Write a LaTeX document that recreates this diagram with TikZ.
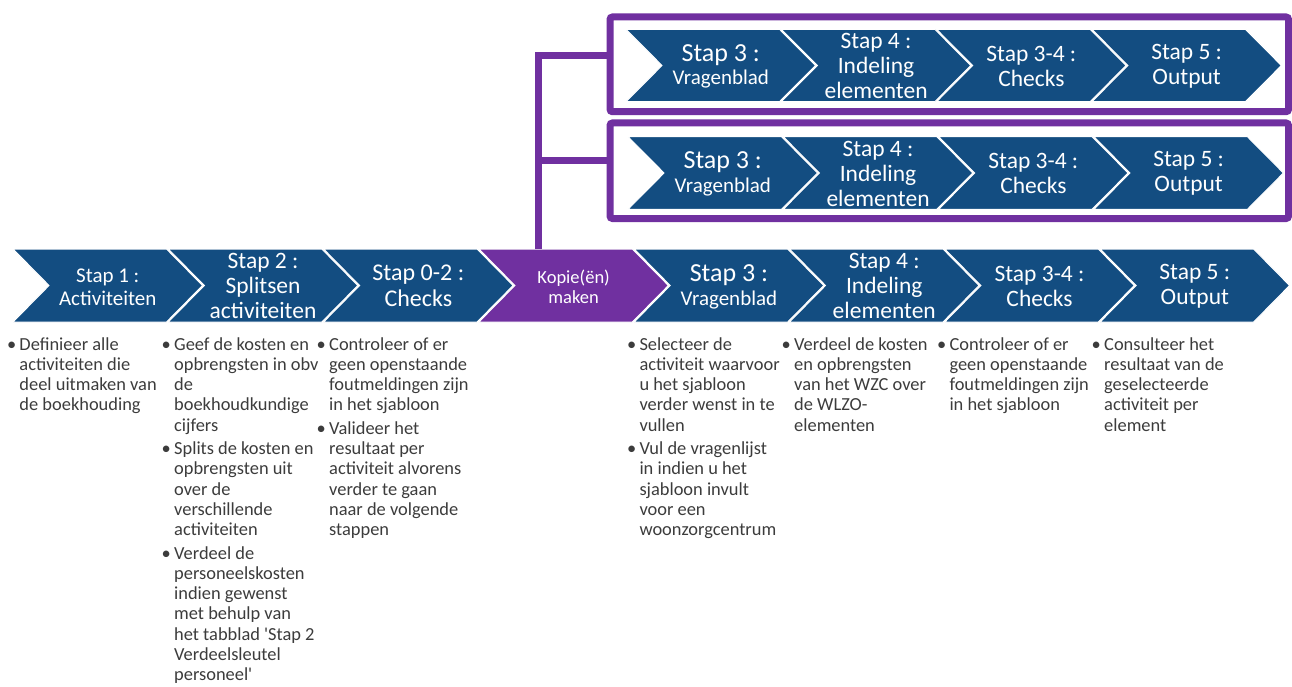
\documentclass[tikz,border=0pt]{standalone}
\usepackage{fontspec}
\setmainfont{Carlito}
\definecolor{cblue}{RGB}{19,77,129}
\definecolor{cpurp}{RGB}{112,48,160}
\definecolor{ctext}{RGB}{60,60,60}
\tikzset{
  chevshape/.style={fill=cblue, draw=white, line width=1pt, line join=miter},
  chevtxt/.style={text=white, align=center, inner sep=0pt},
  copybox/.style={draw=cpurp, line width=7pt, rounded corners=2.5pt, inner sep=0pt, outer sep=0pt},
  conn/.style={draw=cpurp, line width=7pt, line join=miter},
  desc/.style={anchor=base west, inner sep=0pt, text=ctext, font=\fontsize{18.4}{20.3}\selectfont},
}
\newcommand\chevpath[4][cblue]{\path[chevshape, fill=#1] (#2,#3) -- ++(153.5,0) -- ++(36,#4/2) -- ++(-36,#4/2) -- ++(-153.5,0) -- ++(36,-#4/2) -- cycle;}
\newcommand\bul{\makebox[12.5pt][l]{\textbullet}}
\newcommand\fA{\fontsize{21}{23}\selectfont}
\newcommand\fB{\fontsize{23.5}{25}\selectfont}
\newcommand\fC{\fontsize{24}{26}\selectfont}
\newcommand\fP{\fontsize{18.5}{20}\selectfont}
\newcommand\fS{\fontsize{21}{23.3}\selectfont}
\newcommand\fBig{\fontsize{26}{26}\selectfont}
\begin{document}
\begin{tikzpicture}[x=1pt,y=-1pt]
\useasboundingbox[fill=white] (0,0) rectangle (1292,687);

% ---------- bottom row of chevrons ----------
\chevpath{13}{249}{73}
\chevpath{168.3}{249}{73}
\chevpath{323.6}{249}{73}
\chevpath[cpurp]{478.9}{249}{73}
\chevpath{634.2}{249}{73}
\chevpath{789.5}{249}{73}
\chevpath{944.8}{249}{73}
\chevpath{1100.1}{249}{73}

\node[chevtxt, font=\fA] (b1) at (107.75,287) {Stap 1 :\\Activiteiten};
\node[chevtxt, font=\fB] (b2) at (263.05,286) {Stap 2 :\\Splitsen\\activiteiten};
\node[chevtxt, font=\fC] (b3) at (418.35,286) {Stap 0-2 :\\Checks};
\node[chevtxt, font=\fP] (b4) at (573.65,287) {Kopie(ën)\\maken};
\node[chevtxt, font=\fS] (b5) at (728.95,287) {{\fBig Stap 3 :}\\Vragenblad};
\node[chevtxt, font=\fB] (b6) at (884.25,286) {Stap 4 :\\Indeling\\elementen};
\node[chevtxt, font=\fB] (b7) at (1039.55,286) {Stap 3-4 :\\Checks};
\node[chevtxt, font=\fB] (b8) at (1194.85,286) {Stap 5 :\\Output};

% ---------- copy boxes ----------
\node[copybox, minimum width=678.5pt, minimum height=94.7pt] (box1) at (949.25,64.35) {};
\node[copybox, minimum width=678.5pt, minimum height=95.5pt] (box2) at (949.25,170.75) {};

\chevpath{626}{29.3}{72.4}
\chevpath{781.3}{29.3}{72.4}
\chevpath{936.6}{29.3}{72.4}
\chevpath{1091.9}{29.3}{72.4}
\node[chevtxt, font=\fS] (u1) at (720.75,66.5) {{\fBig Stap 3 :}\\Vragenblad};
\node[chevtxt, font=\fB] (u2) at (876.05,66) {Stap 4 :\\Indeling\\elementen};
\node[chevtxt, font=\fB] (u3) at (1031.35,66) {Stap 3-4 :\\Checks};
\node[chevtxt, font=\fB] (u4) at (1186.65,66) {Stap 5 :\\Output};

\chevpath{628}{136.7}{72.6}
\chevpath{783.3}{136.7}{72.6}
\chevpath{938.6}{136.7}{72.6}
\chevpath{1093.9}{136.7}{72.6}
\node[chevtxt, font=\fS] (v1) at (722.75,174) {{\fBig Stap 3 :}\\Vragenblad};
\node[chevtxt, font=\fB] (v2) at (878.05,173.5) {Stap 4 :\\Indeling\\elementen};
\node[chevtxt, font=\fB] (v3) at (1033.35,173.5) {Stap 3-4 :\\Checks};
\node[chevtxt, font=\fB] (v4) at (1188.65,173.5) {Stap 5 :\\Output};

% ---------- connector ----------
\coordinate (kt) at (538,249);
\coordinate (j1) at (538,55.5);
\coordinate (j2) at (538,161);
\draw[conn] (kt) -- (j1) -- (j1 -| box1.west);
\draw[conn] (j2) -- (j2 -| box2.west);

% ---------- descriptions ----------
\node[desc] (d1) at (6.8,350) {\begin{tabular}[t]{@{}l@{}l@{}}
\bul & Definieer alle\\ & activiteiten die\\ & deel uitmaken van\\ & de boekhouding
\end{tabular}};
\node[desc] (d2) at (161.5,350) {\begin{tabular}[t]{@{}l@{}l@{}}
\bul & Geef de kosten en\\ & opbrengsten in obv\\ & de\\ & boekhoudkundige\\ & cijfers\\[3pt]
\bul & Splits de kosten en\\ & opbrengsten uit\\ & over de\\ & verschillende\\ & activiteiten\\[3pt]
\bul & Verdeel de\\ & personeelskosten\\ & indien gewenst\\ & met behulp van\\ & het tabblad \textquotesingle Stap 2\\ & Verdeelsleutel\\ & personeel\textquotesingle
\end{tabular}};
\node[desc] (d3) at (316.5,350) {\begin{tabular}[t]{@{}l@{}l@{}}
\bul & Controleer of er\\ & geen openstaande\\ & foutmeldingen zijn\\ & in het sjabloon\\[3pt]
\bul & Valideer het\\ & resultaat per\\ & activiteit alvorens\\ & verder te gaan\\ & naar de volgende\\ & stappen
\end{tabular}};
\node[desc] (d5) at (626.8,350) {\begin{tabular}[t]{@{}l@{}l@{}}
\bul & Selecteer de\\ & activiteit waarvoor\\ & u het sjabloon\\ & verder wenst in te\\ & vullen\\[3pt]
\bul & Vul de vragenlijst\\ & in indien u het\\ & sjabloon invult\\ & voor een\\ & woonzorgcentrum
\end{tabular}};
\node[desc] (d6) at (781.5,350) {\begin{tabular}[t]{@{}l@{}l@{}}
\bul & Verdeel de kosten\\ & en opbrengsten\\ & van het WZC over\\ & de WLZO-\\ & elementen
\end{tabular}};
\node[desc] (d7) at (936.8,350) {\begin{tabular}[t]{@{}l@{}l@{}}
\bul & Controleer of er\\ & geen openstaande\\ & foutmeldingen zijn\\ & in het sjabloon
\end{tabular}};
\node[desc] (d8) at (1091.5,350) {\begin{tabular}[t]{@{}l@{}l@{}}
\bul & Consulteer het\\ & resultaat van de\\ & geselecteerde\\ & activiteit per\\ & element
\end{tabular}};
\end{tikzpicture}
\end{document}
